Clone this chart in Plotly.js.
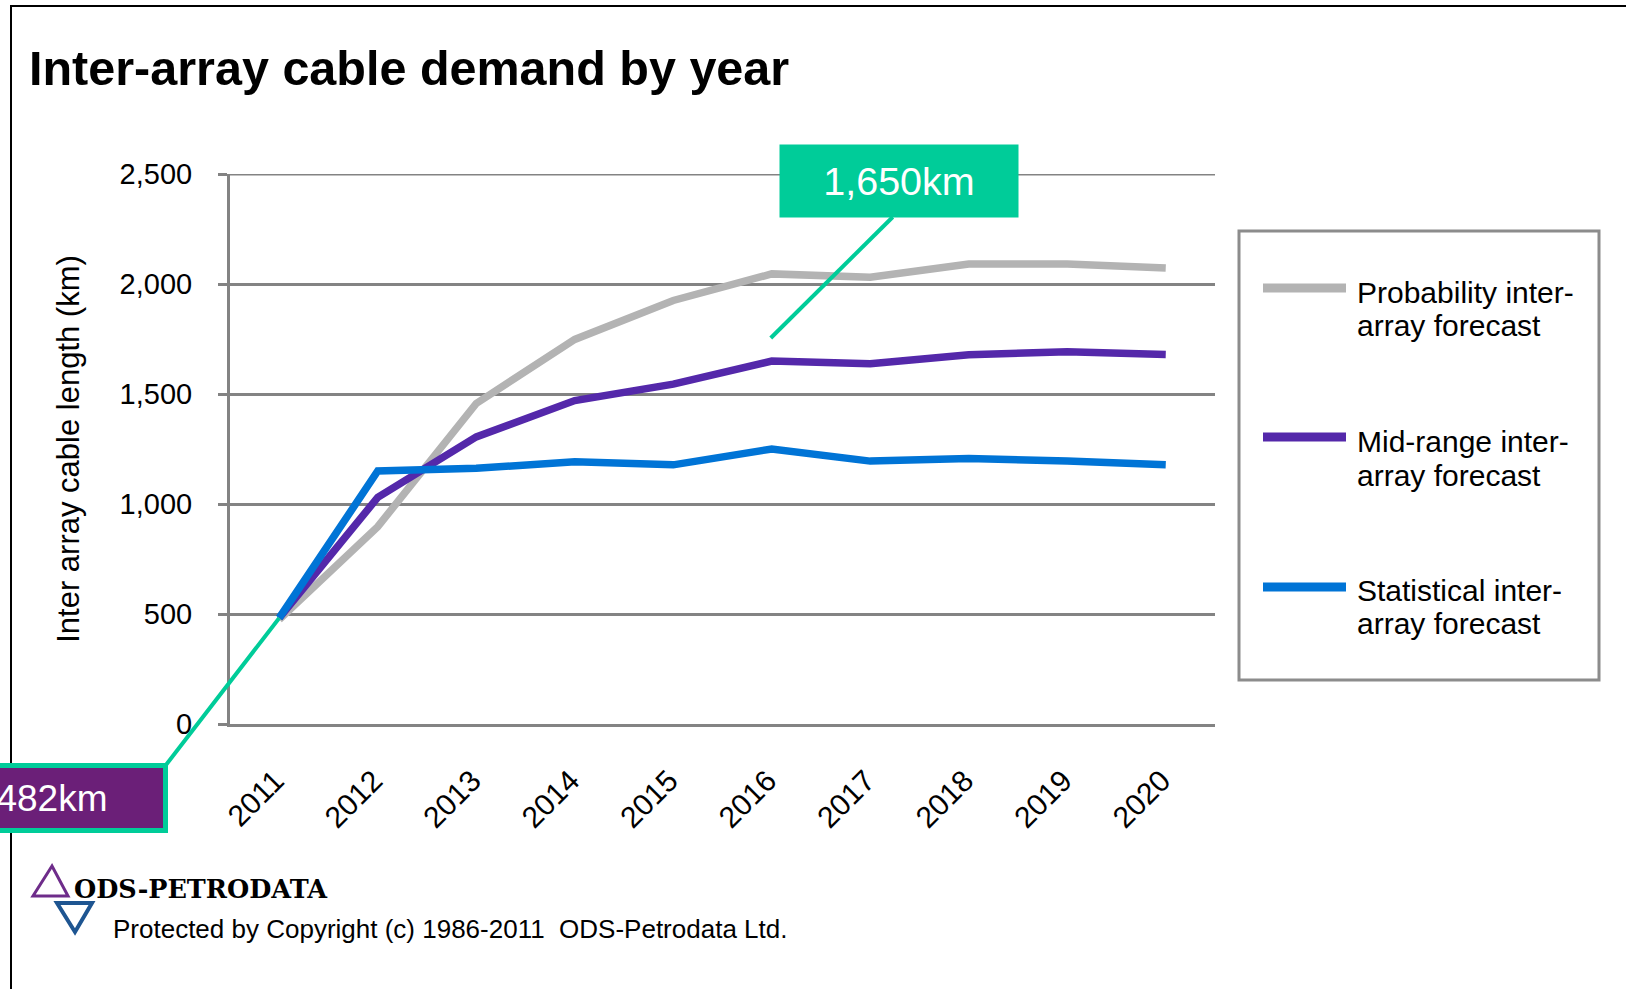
<!DOCTYPE html>
<html>
<head>
<meta charset="utf-8">
<script src="https://cdn.plot.ly/plotly-3.0.1.min.js"></script>
<style>
  html, body { margin: 0; padding: 0; background: #ffffff; }
  #chart { width: 1626px; height: 989px; }
</style>
</head>
<body>
<div id="chart"></div>
<script>
// ---- data ----
const years = ['2011', '2012', '2013', '2014', '2015', '2016', '2017', '2018', '2019', '2020'];
const probability = [475, 897, 1457, 1748, 1925, 2046, 2031, 2091, 2091, 2073];
const midRange = [482, 1030, 1305, 1470, 1545, 1650, 1638, 1678, 1692, 1680];
const statistical = [482, 1150, 1162, 1192, 1178, 1250, 1195, 1207, 1195, 1178];
const seriesNames = ['Probability inter-array forecast', 'Mid-range inter-array forecast', 'Statistical inter-array forecast'];
const legendLines = [['Probability inter-', 'array forecast'], ['Mid-range inter-', 'array forecast'], ['Statistical inter-', 'array forecast']];
const yTicks = [0, 500, 1000, 1500, 2000, 2500];
const peakLabel = '1,650km';
const startLabel = '482km';

// ---- layout geometry (pixels) ----
const W = 1626, H = 989;
const PL = 230, PR = 1215, PT = 174, PB = 724;
const fx = px => (px - PL) / (PR - PL);
const fy = py => 1 - (py - PT) / (PB - PT);

const colors = ['#b3b3b3', '#5428aa', '#0074d6'];
const green = '#00cc99';
const gridGray = '#838383';
const FONT = 'Liberation Sans, Arial, sans-serif';

const traces = [probability, midRange, statistical].map((vals, i) => ({
  type: 'scatter', mode: 'lines', x: years, y: vals, name: seriesNames[i],
  line: { color: colors[i], width: 7.5 }, hoverinfo: 'x+y+name', showlegend: false
}));

const shapes = [];
// top gridline (edge gridline is not drawn by the axis itself)
shapes.push({ type: 'line', xref: 'paper', yref: 'y', x0: 0, x1: 1, y0: yTicks[yTicks.length - 1], y1: yTicks[yTicks.length - 1], line: { color: gridGray, width: 3 }, layer: 'below' });
// outer frame (left + top)
shapes.push({ type: 'line', xref: 'paper', yref: 'paper', x0: fx(11), x1: fx(11), y0: fy(6), y1: fy(H + 5), line: { color: '#000', width: 2 } });
shapes.push({ type: 'line', xref: 'paper', yref: 'paper', x0: fx(10), x1: fx(W + 5), y0: fy(6), y1: fy(6), line: { color: '#000', width: 2 } });
// legend box
shapes.push({ type: 'rect', xref: 'paper', yref: 'paper', x0: fx(1239), x1: fx(1599), y0: fy(231), y1: fy(680), line: { color: '#8c8c8c', width: 3 }, fillcolor: 'rgba(0,0,0,0)' });
const legendY = [288, 437, 587];
legendY.forEach((yy, i) => {
  shapes.push({ type: 'line', xref: 'paper', yref: 'paper', x0: fx(1263), x1: fx(1346), y0: fy(yy), y1: fy(yy), line: { color: colors[i], width: 9 } });
});
// logo triangles
const tri = (pts) => 'M' + pts.map(p => fx(p[0]) + ',' + fy(p[1])).join(' L') + ' Z';
shapes.push({ type: 'path', xref: 'paper', yref: 'paper', path: tri([[52, 866], [33, 896], [68, 896]]), line: { color: '#6e2c8a', width: 3 } });
shapes.push({ type: 'path', xref: 'paper', yref: 'paper', path: tri([[57, 903], [92, 903], [75, 932]]), line: { color: '#1e5591', width: 4 } });
// peak callout connector, anchored at the data point, offsets in pixels
const peakIdx = years.indexOf('2016');
const startIdx = years.indexOf('2011');
shapes.push({ type: 'line', xref: 'x', yref: 'y', xsizemode: 'pixel', ysizemode: 'pixel',
  xanchor: peakIdx, yanchor: midRange[peakIdx], x0: -1, y0: 23, x1: 121, y1: 144,
  line: { color: green, width: 4 } });

const annotations = [];
// legend text
const legendTextY = [[292, 325], [441, 475], [590, 623]];
legendLines.forEach((lines, i) => {
  lines.forEach((t, j) => {
    annotations.push({ xref: 'paper', yref: 'paper', x: fx(1355), y: fy(legendTextY[i][j]), xanchor: 'left', yanchor: 'middle', text: t, showarrow: false, font: { family: FONT, size: 30, color: '#000' } });
  });
});
// start callout connector (tail hidden under the box drawn next)
annotations.push({ xref: 'x', yref: 'y', x: startIdx, y: midRange[startIdx], text: '.', font: { family: FONT, size: 10, color: green }, showarrow: true, arrowhead: 0, arrowwidth: 4, arrowcolor: green, ax: -121, ay: 157, standoff: 0 });
// peak callout box
annotations.push({ xref: 'paper', yref: 'paper', x: fx(899), y: fy(181), xanchor: 'center', yanchor: 'middle', text: peakLabel, showarrow: false, bgcolor: green, width: 238, height: 72, borderpad: 0, font: { family: FONT, size: 39.5, color: '#ffffff' } });
// start callout box
annotations.push({ xref: 'paper', yref: 'paper', x: fx(52), y: fy(798), xanchor: 'center', yanchor: 'middle', text: startLabel, showarrow: false, bgcolor: '#6b1f78', bordercolor: green, borderwidth: 5, width: 222, height: 60, borderpad: 0, font: { family: FONT, size: 37, color: '#ffffff' } });
// logo + copyright
annotations.push({ xref: 'paper', yref: 'paper', x: fx(72), y: fy(889), xanchor: 'left', yanchor: 'middle', text: '<b>ODS-PETRODATA</b>', showarrow: false, font: { family: 'DejaVu Serif, serif', size: 25.5, color: '#000' } });
annotations.push({ xref: 'paper', yref: 'paper', x: fx(111), y: fy(929), xanchor: 'left', yanchor: 'middle', text: 'Protected by Copyright (c) 1986-2011  ODS-Petrodata Ltd.', showarrow: false, font: { family: FONT, size: 26, color: '#000' } });

const layout = {
  width: W, height: H, autosize: false,
  margin: { l: PL, r: W - PR, t: PT, b: H - PB, pad: 0 },
  paper_bgcolor: '#ffffff', plot_bgcolor: '#ffffff',
  font: { family: FONT, color: '#000' },
  title: { text: '<b>Inter-array cable demand by year</b>', font: { family: FONT, size: 48.5, color: '#000' }, xref: 'container', x: 29 / W, xanchor: 'left', yref: 'container', y: 1 - 68 / H, yanchor: 'middle' },
  showlegend: false,
  xaxis: {
    type: 'category', categoryarray: years, range: [-0.5, 9.5], automargin: false,
    showline: true, linecolor: gridGray, linewidth: 3, showgrid: false, zeroline: false,
    ticks: '', tickangle: -45, tickfont: { family: FONT, size: 30, color: '#000' }, ticklabelstandoff: 24, ticklabelshift: -4
  },
  yaxis: {
    range: [0, 2500], tickvals: yTicks, tickformat: ',d', automargin: false,
    showline: true, linecolor: gridGray, linewidth: 3,
    showgrid: true, gridcolor: gridGray, gridwidth: 3, zeroline: false,
    ticks: 'outside', ticklen: 9, tickwidth: 3, tickcolor: gridGray,
    tickfont: { family: FONT, size: 29, color: '#000' }, ticklabelstandoff: 20,
    title: { text: 'Inter array cable length (km)', font: { family: FONT, size: 31, color: '#000' }, standoff: 31 }
  },
  shapes: shapes,
  annotations: annotations
};

Plotly.newPlot('chart', traces, layout, { displayModeBar: false, responsive: false });
</script>
</body>
</html>
